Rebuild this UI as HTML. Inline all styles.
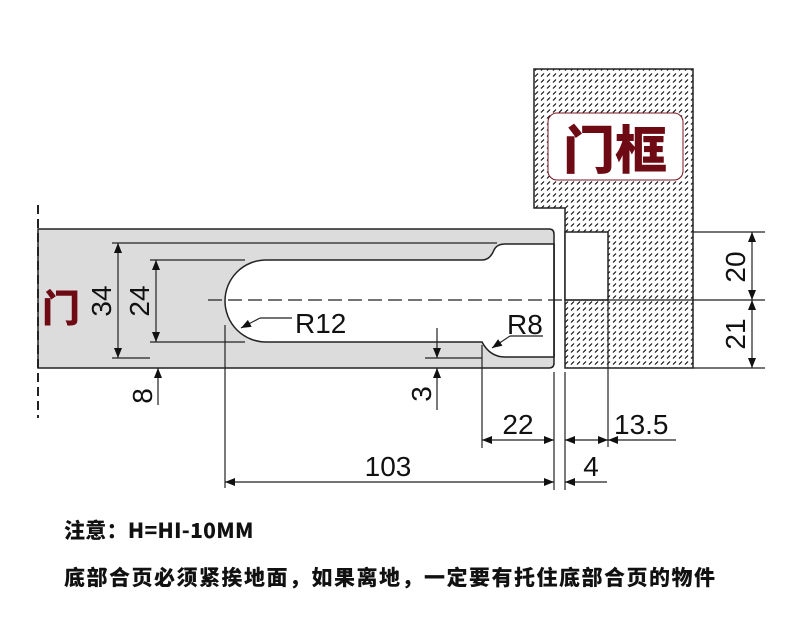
<!DOCTYPE html>
<html><head><meta charset="utf-8"><style>
body{margin:0;background:#fff;width:790px;height:620px;overflow:hidden}
svg{display:block}
.t{font-family:"Liberation Sans",sans-serif;font-size:28px;fill:#111}
.c{font-family:"Noto Sans CJK SC","Liberation Sans",sans-serif;font-weight:900;font-size:21px;fill:#111}
</style></head><body>
<svg width="790" height="620" viewBox="0 0 790 620">
<defs>
<pattern id="h" width="6" height="6" patternUnits="userSpaceOnUse">
<rect width="6" height="6" fill="#fff"/>
<line x1="1" y1="4.5" x2="4" y2="1.5" stroke="#111" stroke-width="1.2"/>
</pattern>
<marker id="a" markerWidth="10" markerHeight="8" refX="10" refY="4" orient="auto" markerUnits="userSpaceOnUse">
<path d="M0,0 L10,4 L0,8z" fill="#111"/></marker>
</defs>
<path d="M38,229 H549 Q554,229 554,234 V363 Q554,368 549,368 H38 Z" fill="#dcdcdc" stroke="#222" stroke-width="1.5"/>
<path d="M266,260 H482 Q490,260 494,250 Q497,244 505,244 H554 V357 H505 Q490,357 482,342 H266 A41,41 0 0 1 266,260 Z" fill="#fff" stroke="#222" stroke-width="1.5"/>
<line x1="554" y1="244" x2="554" y2="357" stroke="#222" stroke-width="1.5"/>
<line x1="38" y1="205" x2="38" y2="418" stroke="#222" stroke-width="2" stroke-dasharray="9,5"/>
<path d="M534,69 H693 V368 H565 V208 H534 Z" fill="url(#h)" stroke="#222" stroke-width="1.5"/>
<rect x="565" y="232" width="43" height="68" fill="#fff" stroke="#222" stroke-width="1.5"/>
<rect x="548" y="113" width="135" height="67" rx="9" fill="#fff" stroke="#7a1420" stroke-width="1"/>
<text x="615" y="169" text-anchor="middle" font-family="'Noto Sans CJK SC',sans-serif" font-weight="900" font-size="52" fill="#6e0a14">门框</text>
<text x="42" y="322" font-family="'Noto Sans CJK SC',sans-serif" font-weight="900" font-size="38" fill="#6e0a14">门</text>
<line x1="208" y1="300" x2="565" y2="300" stroke="#222" stroke-width="1.2" stroke-dasharray="14,6"/>
<line x1="565" y1="300" x2="765" y2="300" stroke="#222" stroke-width="1.2"/>
<g stroke="#222" stroke-width="1.2" fill="none">
<line x1="112" y1="243" x2="497" y2="243"/>
<line x1="112" y1="358" x2="150" y2="358"/>
<line x1="150" y1="260" x2="245" y2="260"/>
<line x1="150" y1="342" x2="245" y2="342"/>
<line x1="118" y1="300" x2="118" y2="243" marker-end="url(#a)"/>
<line x1="118" y1="300" x2="118" y2="358" marker-end="url(#a)"/>
<line x1="156" y1="300" x2="156" y2="260" marker-end="url(#a)"/>
<line x1="156" y1="300" x2="156" y2="342" marker-end="url(#a)"/>
<line x1="158" y1="405" x2="158" y2="368" marker-end="url(#a)"/>
<line x1="425" y1="358" x2="482" y2="358"/>
<line x1="437" y1="328" x2="437" y2="358" marker-end="url(#a)"/>
<line x1="437" y1="410" x2="437" y2="368" marker-end="url(#a)"/>
<line x1="292" y1="318" x2="260" y2="318"/>
<line x1="260" y1="318" x2="241" y2="328" marker-end="url(#a)"/>
<line x1="543" y1="336" x2="510" y2="336"/>
<line x1="510" y1="336" x2="492" y2="348" marker-end="url(#a)"/>
<line x1="225" y1="325" x2="225" y2="488"/>
<line x1="482" y1="345" x2="482" y2="448"/>
<line x1="554" y1="372" x2="554" y2="490"/>
<line x1="565" y1="372" x2="565" y2="490"/>
<line x1="608" y1="300" x2="608" y2="447"/>
<line x1="518" y1="440" x2="482" y2="440" marker-end="url(#a)"/>
<line x1="518" y1="440" x2="554" y2="440" marker-end="url(#a)"/>
<line x1="586" y1="440" x2="565" y2="440" marker-end="url(#a)"/>
<line x1="586" y1="440" x2="608" y2="440" marker-end="url(#a)"/>
<line x1="676" y1="440" x2="608" y2="440" marker-end="url(#a)"/>
<line x1="390" y1="482" x2="225" y2="482" marker-end="url(#a)"/>
<line x1="390" y1="482" x2="554" y2="482" marker-end="url(#a)"/>
<line x1="607" y1="482" x2="565" y2="482" marker-end="url(#a)"/>
<line x1="693" y1="232" x2="765" y2="232"/>
<line x1="693" y1="368" x2="765" y2="368"/>
<line x1="752" y1="266" x2="752" y2="232" marker-end="url(#a)"/>
<line x1="752" y1="266" x2="752" y2="300" marker-end="url(#a)"/>
<line x1="752" y1="334" x2="752" y2="300" marker-end="url(#a)"/>
<line x1="752" y1="334" x2="752" y2="368" marker-end="url(#a)"/>
</g>
<g class="t">
<text transform="translate(111,301) rotate(-90)" text-anchor="middle">34</text>
<text transform="translate(149,301) rotate(-90)" text-anchor="middle">24</text>
<text transform="translate(152,396) rotate(-90)" text-anchor="middle">8</text>
<text transform="translate(431,394) rotate(-90)" text-anchor="middle">3</text>
<text transform="translate(745,267) rotate(-90)" text-anchor="middle">20</text>
<text transform="translate(745,334) rotate(-90)" text-anchor="middle">21</text>
<text x="295" y="333">R12</text>
<text x="507" y="334">R8</text>
<text x="518" y="434" text-anchor="middle">22</text>
<text x="614" y="434">13.5</text>
<text x="591" y="476" text-anchor="middle">4</text>
<text x="388" y="476" text-anchor="middle">103</text>
</g>
<text class="c" x="64" y="538" font-size="20" letter-spacing="0.3">注意：H=HI-10MM</text>
<text class="c" x="64" y="585" letter-spacing="1.5">底部合页必须紧挨地面，如果离地，一定要有托住底部合页的物件</text>
</svg>
</body></html>
